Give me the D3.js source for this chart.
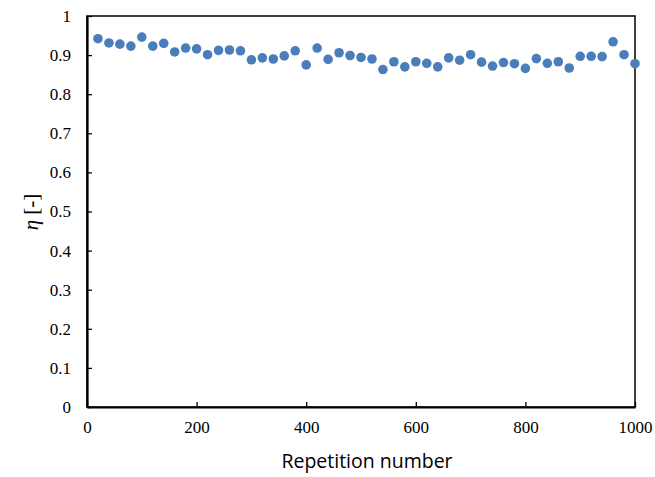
<!DOCTYPE html>
<html>
<head>
<meta charset="utf-8">
<script src="https://cdn.jsdelivr.net/npm/d3@7"></script>
<style>
  body { margin: 0; background: #fff; }
  svg .serif { font-family: "Liberation Serif", "Times New Roman", serif; }
</style>
</head>
<body>
<div id="chart"></div>
<script>
// data
const repetitions = [20, 40, 60, 80, 100, 120, 140, 160, 180, 200,
    220, 240, 260, 280, 300, 320, 340, 360, 380, 400,
    420, 440, 460, 480, 500, 520, 540, 560, 580, 600,
    620, 640, 660, 680, 700, 720, 740, 760, 780, 800,
    820, 840, 860, 880, 900, 920, 940, 960, 980, 1000];
const eta = [0.942, 0.931, 0.928, 0.923, 0.946, 0.923, 0.930, 0.908, 0.918, 0.916,
    0.901, 0.912, 0.913, 0.911, 0.888, 0.893, 0.890, 0.898, 0.911, 0.875,
    0.918, 0.889, 0.906, 0.899, 0.894, 0.890, 0.863, 0.883, 0.870, 0.883,
    0.879, 0.870, 0.893, 0.887, 0.901, 0.882, 0.872, 0.881, 0.878, 0.866,
    0.891, 0.879, 0.883, 0.867, 0.897, 0.897, 0.896, 0.934, 0.901, 0.878];
const xTicks = [0, 200, 400, 600, 800, 1000];
const yTicks = [0, 0.1, 0.2, 0.3, 0.4, 0.5, 0.6, 0.7, 0.8, 0.9, 1];

// FIGURE DIMENSIONS
const FIGURE = { WIDTH: 655, HEIGHT: 477 };
const MARGINS = { LEFT: 87, TOP: 16, RIGHT: 20, BOTTOM: 70 };
const PLOT = {
    WIDTH: FIGURE.WIDTH - MARGINS.LEFT - MARGINS.RIGHT,
    HEIGHT: FIGURE.HEIGHT - MARGINS.TOP - MARGINS.BOTTOM
};

const x = d3.scaleLinear().domain([0, 1000]).range([0, PLOT.WIDTH]);
const y = d3.scaleLinear().domain([0, 1]).range([PLOT.HEIGHT, 0]);

const svg = d3.select('#chart')
    .append('svg')
        .attr('width', FIGURE.WIDTH)
        .attr('height', FIGURE.HEIGHT);

const plot = svg.append('g')
    .attr('transform', `translate(${MARGINS.LEFT}, ${MARGINS.TOP})`);

// frame
plot.append('rect')
    .attr('width', PLOT.WIDTH)
    .attr('height', PLOT.HEIGHT)
    .attr('fill', 'none')
    .attr('stroke', '#000')
    .attr('stroke-width', 1.5);

const xAxis = d3.axisBottom(x)
    .tickValues(xTicks)
    .tickFormat(d3.format('d'))
    .tickSizeInner(-5)
    .tickSizeOuter(0)
    .tickPadding(14);

const yAxis = d3.axisLeft(y)
    .tickValues(yTicks)
    .tickFormat(d => d === 0 || d === 1 ? d : d.toFixed(1))
    .tickSizeInner(-5)
    .tickSizeOuter(0)
    .tickPadding(16);

const gx = plot.append('g')
    .attr('transform', `translate(0, ${PLOT.HEIGHT})`)
    .call(xAxis);

const gy = plot.append('g')
    .call(yAxis);

[gx, gy].forEach(g => {
    g.attr('font-family', null).attr('font-size', 17).attr('class', 'serif');
    g.select('.domain').attr('stroke', '#000').attr('stroke-width', 2.2);
    g.selectAll('.tick line').attr('stroke', '#000').attr('stroke-width', 1.3);
    g.selectAll('.tick text').attr('fill', '#000');
});

// points
plot.append('g')
    .selectAll('circle')
    .data(repetitions.map((r, i) => ({ r: r, v: eta[i] })))
    .enter()
    .append('circle')
        .attr('cx', d => x(d.r))
        .attr('cy', d => y(d.v))
        .attr('r', 4.8)
        .attr('fill', '#4a7ebb');

// axis titles
svg.append('text')
    .attr('x', MARGINS.LEFT + PLOT.WIDTH / 2 + 6)
    .attr('y', 468)
    .attr('text-anchor', 'middle')
    .style('font-family', '"Open Sans", "Liberation Sans", sans-serif')
    .style('font-size', '19.5px')
    .text('Repetition number');

const yTitle = svg.append('text')
    .attr('class', 'serif')
    .attr('transform', 'translate(38, 212) rotate(-90)')
    .attr('text-anchor', 'middle')
    .style('font-size', '21px');
yTitle.append('tspan')
    .style('font-style', 'italic')
    .text('η');
yTitle.append('tspan')
    .text(' [-]');
</script>
</body>
</html>
